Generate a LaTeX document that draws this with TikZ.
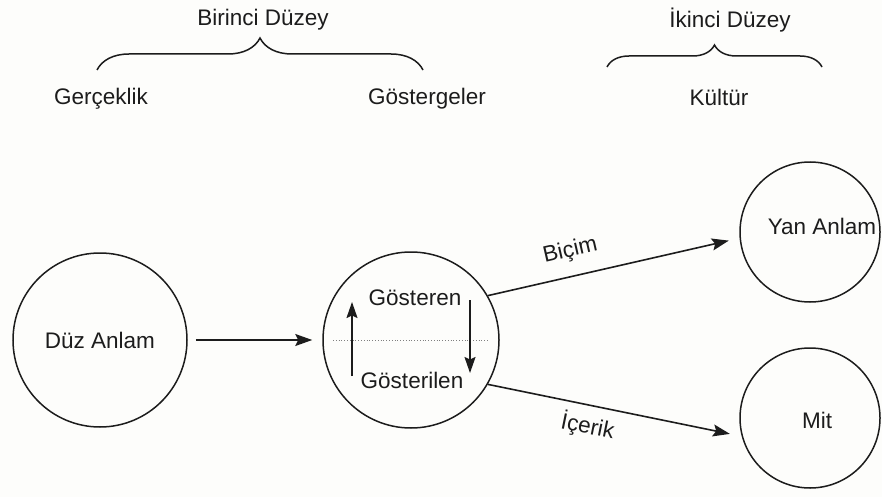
\documentclass[tikz,border=0pt]{standalone}
\usepackage{fontspec}
\setmainfont{Liberation Sans}
\usetikzlibrary{arrows.meta,decorations.pathreplacing}
\definecolor{paper}{RGB}{253,253,251}
\definecolor{ink}{RGB}{28,28,28}
\begin{document}
\begin{tikzpicture}[x=1pt,y=-1pt,
  every node/.style={text=ink,font=\fontsize{22.5}{26}\selectfont},
  ring/.style={draw=ink,circle,line width=1.5pt,inner sep=0pt},
  link/.style={draw=ink,line width=1.6pt,-{Stealth[length=17pt,width=12pt,inset=3pt]}},
  minilink/.style={draw=ink,line width=1.6pt,-{Stealth[length=16pt,width=11pt,inset=2.5pt]}},
  bracket/.style={draw=ink,line width=1.5pt,decorate},
  lbl/.style={inner sep=0pt}]
\fill[paper] (0,0) rectangle (882,497);
\useasboundingbox (0,0) rectangle (882,497);

% level headings and braces
\node[lbl] (lvl1) at (263,20) {Birinci Düzey};
\node[lbl] (lvl2) at (730,20) {İkinci Düzey};
\draw[bracket,decoration={brace,amplitude=32pt}] (97,70) -- (423,70);
\draw[bracket,decoration={brace,amplitude=22pt}] (607,67) -- (822,67);
\node[lbl] (real) at (101,99) {Gerçeklik};
\node[lbl] (signs) at (427,99) {Göstergeler};
\node[lbl] (cult) at (719,97) {Kültür};

% circles
\node[ring,minimum size=174pt] (duz) at (100,340) {Düz Anlam};
\node[ring,minimum size=176pt] (mid) at (411,340) {};
\node[ring,minimum size=140pt] (yan) at (810,232) {};
\node[lbl] (yantext) at (822,226) {Yan Anlam};
\node[ring,minimum size=140pt] (mit) at (810,418) {};
\node[lbl] (mittext) at (817,420) {Mit};

% inside the sign
\node[lbl] (gren) at (415,298) {Gösteren};
\node[lbl] (glen) at (412,380) {Gösterilen};
\coordinate (dl) at (333,340);
\coordinate (dr) at (488,340);
\coordinate (upa) at (352,376);
\coordinate (upb) at (352,302);
\coordinate (dna) at (470,300);
\coordinate (dnb) at (470,373);
\draw[gray,line width=0.8pt,dotted] (dl) -- (dr);
\draw[minilink] (upa) -- (upb);
\draw[minilink] (dna) -- (dnb);

% connectors
\draw[link,shorten <=8pt,shorten >=10pt] (duz.east) -- (mid.west);
\draw[link,shorten >=11pt] (mid.30) -- node[lbl,pos=0.35,sloped,above=14pt] (bicim) {Biçim} (yan.185);
\draw[link,shorten >=12pt] (mid.-30) -- node[lbl,pos=0.41,sloped,below=8pt] (icerik) {İçerik} (mit.195);
\end{tikzpicture}
\end{document}
